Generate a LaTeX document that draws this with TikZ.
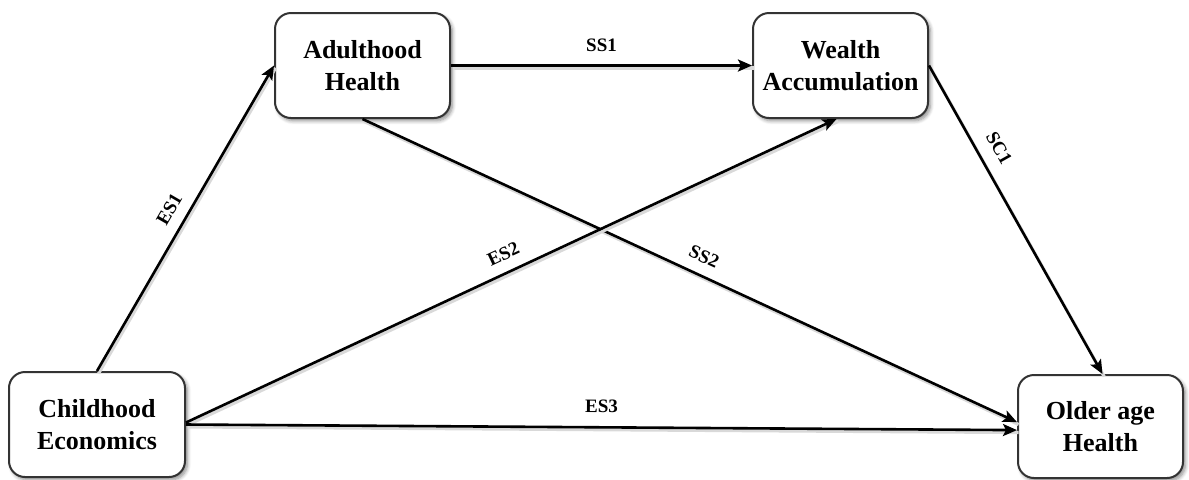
\documentclass[tikz,border=0pt]{standalone}
\usepackage{fontspec}
\setmainfont{Liberation Serif}
\usetikzlibrary{arrows.meta,shadows.blur,calc}

\tikzset{
  box/.style={draw=black!80, line width=1pt, rounded corners=8pt, fill=white,
    align=center, font=\fontsize{13}{16}\selectfont\bfseries,
    blur shadow={shadow xshift=1.2pt, shadow yshift=-1.4pt, shadow blur steps=6, shadow opacity=45}},
  link/.style={line width=1.3pt, -{Stealth[length=7pt,width=6pt,inset=1.5pt]},
    preaction={draw=black!15, line width=1.6pt, -,
      transform canvas={shift={(0.8pt,-1.2pt)}}}},
  lab/.style={font=\fontsize{9.5}{11}\selectfont\bfseries, inner sep=1.5pt, sloped}
}

\begin{document}
\begin{tikzpicture}[x=0.5pt,y=-0.5pt]
  \useasboundingbox (0,0) rectangle (1189,479);

  % the four stages
  \node[box, minimum width=88pt, minimum height=52.5pt] (ce) at (97,424.5) {Childhood\\Economics};
  \node[box, minimum width=87.5pt, minimum height=52.5pt] (ah) at (362.5,65.5) {Adulthood\\Health};
  \node[box, minimum width=87.5pt, minimum height=52.5pt] (wa) at (840.5,65.5) {Wealth\\Accumulation};
  \node[box, minimum width=82.5pt, minimum height=51.5pt] (oh) at (1100.5,426.5) {Older age\\Health};

  % paths between stages
  \draw[link] (ce.north) -- node[lab, above=4pt, pos=0.5] {ES1} (ah.west);
  \draw[link] (ah.east) -- node[lab, above=5pt, pos=0.5] {SS1} (wa.west);
  \draw[link] (wa.east) -- node[lab, above=5pt, pos=0.3] {SC1} ([xshift=1pt]oh.north);
  \draw[link] (ah.south) -- node[lab, above=4pt, pos=0.51] {SS2} ([yshift=2.2pt]oh.west);
  \draw[link] ([yshift=1pt]ce.east) -- node[lab, above=4pt, pos=0.5] {ES2} ([xshift=-2pt]wa.south);
  \draw[link] (ce.east) -- node[lab, above=5pt, pos=0.5] {ES3} ([yshift=-1.8pt]oh.west);
\end{tikzpicture}
\end{document}
